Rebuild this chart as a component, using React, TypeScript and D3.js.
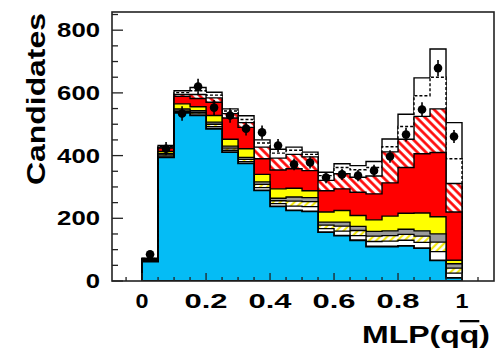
import React from 'react';
import * as d3 from 'd3';

// ---------------- data ----------------
const binEdges = [0, 0.05, 0.1, 0.15, 0.2, 0.25, 0.3, 0.35, 0.4, 0.45, 0.5, 0.55, 0.6, 0.65, 0.7, 0.75, 0.8, 0.85, 0.9, 0.95, 1.0];
const cyan = [62, 394, 536, 528, 485, 411, 375, 289, 238, 225, 222, 156, 145, 130, 110, 110, 112, 105, 66, 10];
const whiteThin = [1, 4, 4, 5, 7, 6, 6, 9, 9, 14, 15, 11, 14, 15, 16, 17, 18, 18, 28, 15];
const yellowHatch = [2, 4, 5, 5, 8, 7, 7, 10, 9, 16, 16, 11, 16, 16, 17, 18, 19, 20, 30, 16];
const gray = [1, 4, 4, 5, 7, 6, 6, 8, 8, 13, 13, 10, 13, 13, 15, 15, 16, 17, 26, 14];
const yellow = [2, 7, 16, 13, 21, 22, 28, 24, 30, 28, 22, 32, 37, 35, 37, 47, 51, 57, 55, 11];
const red = [2, 11, 24, 26, 42, 68, 68, 50, 60, 62, 64, 68, 69, 74, 83, 106, 146, 189, 205, 154];
const redHatch = [1, 3, 6, 13, 14, 14, 15, 37, 38, 46, 44, 33, 48, 48, 57, 99, 90, 119, 139, 91];
const dashedWhite = [1, 3, 6, 12, 9, 8, 10, 13, 16, 13, 8, 15, 20, 24, 27, 16, 41, 66, 101, 79];
const solidWhite = [1, 2, 6, 10, 9, 7, 12, 10, 12, 10, 7, 11, 12, 13, 19, 25, 39, 57, 90, 115];
const dataCounts = [85, 422, 534, 620, 553, 528, 486, 474, 432, 372, 378, 330, 340, 336, 352, 397, 467, 547, 679, 461];
const dataErrors = [9, 21, 23, 25, 24, 23, 22, 22, 21, 19, 19, 18, 18, 18, 19, 20, 22, 23, 26, 21];
const yTickValues = [0, 200, 400, 600, 800];
const xTickValues = [0, 0.2, 0.4, 0.6, 0.8, 1];
const xTickLabels = ['0', '0.2', '0.4', '0.6', '0.8', '1'];

const layerKeys = ['cyan', 'whiteThin', 'yellowHatch', 'gray', 'yellow', 'red', 'redHatch', 'dashedWhite', 'solidWhite'];
const layerSeries: Record<string, number[]> = { cyan, whiteThin, yellowHatch, gray, yellow, red, redHatch, dashedWhite, solidWhite };
const layerStyle: Record<string, { fill: string; dash?: string; sw: number }> = {
  cyan: { fill: '#05bcf5', sw: 1.8 },
  whiteThin: { fill: '#ffffff', sw: 1.3 },
  yellowHatch: { fill: 'url(#yHatch)', sw: 1.3 },
  gray: { fill: '#9a9a9a', sw: 1.3 },
  yellow: { fill: '#ffff00', sw: 1.4 },
  red: { fill: '#ff0000', sw: 1.4 },
  redHatch: { fill: 'url(#rHatch)', sw: 1.4 },
  dashedWhite: { fill: '#ffffff', sw: 1.4, dash: '3,2' },
  solidWhite: { fill: '#ffffff', sw: 1.4 },
};

const W = 501, H = 352;
const FL = 112, FR = 494, FT = 12, FB = 281;

export default function App() {
  const x = d3.scaleLinear().domain([-0.094, 1.1]).range([FL, FR]);
  const y = d3.scaleLinear().domain([0, 858]).range([FB, FT]);

  const table = binEdges.slice(0, -1).map((e, i) => {
    const row: any = { i };
    layerKeys.forEach((k) => (row[k] = layerSeries[k][i]));
    return row;
  });
  const stacked = d3.stack<any>().keys(layerKeys)(table);

  const area = d3
    .area<[number, number]>()
    .x((d) => x(d[0]))
    .y0(() => y(0))
    .y1((d) => y(d[1]))
    .curve(d3.curveStepAfter);

  const layerPath = (s: any) => {
    const pts: [number, number][] = binEdges.map((e, i) => [e, s[Math.min(i, s.length - 1)][1]]);
    return area(pts) as string;
  };

  const yMinor = d3.range(0, 858, 50);
  const xMinor = d3.range(-0.05, 1.1, 0.05);
  const font = "'Liberation Sans', Arial, Helvetica, sans-serif";

  return (
    <svg width={W} height={H} style={{ position: 'absolute', left: 0, top: 0, background: '#fff' }}>
      <defs>
        <pattern id="rHatch" patternUnits="userSpaceOnUse" width={6} height={6} patternTransform="rotate(-45)">
          <rect width={6} height={6} fill="#fff" />
          <line x1={1.5} y1={0} x2={1.5} y2={6} stroke="#ff0000" strokeWidth={2.6} />
        </pattern>
        <pattern id="yHatch" patternUnits="userSpaceOnUse" width={5} height={5} patternTransform="rotate(45)">
          <rect width={5} height={5} fill="#fff" />
          <line x1={1.2} y1={0} x2={1.2} y2={5} stroke="#f2e600" strokeWidth={2} />
        </pattern>
        <clipPath id="frameClip">
          <rect x={FL} y={FT} width={FR - FL} height={FB - FT} />
        </clipPath>
      </defs>
      <rect x={0} y={0} width={W} height={H} fill="#fff" />

      <g clipPath="url(#frameClip)">
        {[...stacked].reverse().map((s: any) => {
          const st = layerStyle[s.key];
          return (
            <path
              key={s.key}
              d={layerPath(s)}
              fill={st.fill}
              stroke="#000"
              strokeWidth={st.sw}
              strokeDasharray={st.dash}
              strokeLinejoin="miter"
            />
          );
        })}
      </g>

      {/* data points */}
      <g>
        {dataCounts.map((v, i) => {
          const cx = x((binEdges[i] + binEdges[i + 1]) / 2);
          return (
            <g key={i}>
              <line x1={cx} x2={cx} y1={y(v - dataErrors[i])} y2={y(v + dataErrors[i])} stroke="#000" strokeWidth={1.6} />
              <circle cx={cx} cy={y(v)} r={4.3} fill="#000" />
            </g>
          );
        })}
      </g>

      {/* frame */}
      <rect x={FL} y={FT} width={FR - FL} height={FB - FT} fill="none" stroke="#222" strokeWidth={1.6} />

      {/* y ticks */}
      {yMinor.map((v) => {
        const major = v % 200 === 0;
        return <line key={'ym' + v} x1={FL} x2={FL + (major ? 11 : 6)} y1={y(v)} y2={y(v)} stroke="#222" strokeWidth={1.3} />;
      })}
      {yTickValues.map((v) => {
        const s = String(v);
        return (
          <text key={'yl' + v} x={100} y={y(v) + 7} textAnchor="end" fontFamily={font} fontWeight="bold" fontSize={19.5}
            textLength={s.length * 14.3} lengthAdjust="spacingAndGlyphs" fill="#000">
            {s}
          </text>
        );
      })}

      {/* x ticks */}
      {xMinor.map((v, i) => {
        const major = Math.abs(Math.round(v / 0.2) * 0.2 - v) < 1e-6;
        return <line key={'xm' + i} x1={x(v)} x2={x(v)} y1={FB} y2={FB - (major ? 8 : 4)} stroke="#222" strokeWidth={1.3} />;
      })}
      {xTickValues.map((v, i) => {
        const s = xTickLabels[i];
        return (
          <text key={'xl' + i} x={x(v)} y={307.5} textAnchor="middle" fontFamily={font} fontWeight="bold" fontSize={19.5}
            textLength={s.length === 1 ? 13 : 43} lengthAdjust="spacingAndGlyphs" fill="#000">
            {s}
          </text>
        );
      })}

      {/* axis titles */}
      <text transform="translate(45,99) rotate(-90)" textAnchor="middle" fontFamily={font} fontWeight="bold" fontSize={25}
        textLength={172} lengthAdjust="spacingAndGlyphs" fill="#000">
        Candidates
      </text>
      <text x={490} y={343} textAnchor="end" fontFamily={font} fontWeight="bold" fontSize={23}
        textLength={128} lengthAdjust="spacingAndGlyphs" fill="#000">
        MLP(q<tspan style={{ textDecoration: 'overline' }}>q</tspan>)
      </text>
    </svg>
  );
}
